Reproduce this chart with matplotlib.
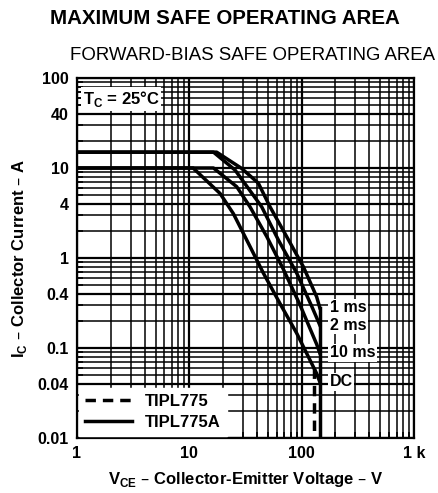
import matplotlib
matplotlib.use('Agg')
import matplotlib.pyplot as plt
import numpy as np
from matplotlib.ticker import FixedLocator, LogLocator, NullFormatter

plt.rcParams['font.family'] = ['Liberation Sans', 'DejaVu Sans']

# values (V, A)
v_1ms = [1, 17.5, 29.2, 41.1, 52.3, 73.5, 103.5, 136, 145]
i_1ms = [15, 15, 9.9, 6.8, 3.7, 1.73, 0.8, 0.37, 0.28]

v_2ms = [1, 16.4, 25.5, 44.1, 62.1, 90.3, 123, 145]
i_2ms = [15, 15, 9.5, 3.7, 1.58, 0.68, 0.29, 0.18]

v_10ms = [1, 16.4, 26.4, 34.7, 48.9, 68.7, 96.8, 136, 145]
i_10ms = [10, 10, 6.2, 3.7, 1.73, 0.75, 0.3, 0.11, 0.088]

v_dc = [1, 10.8, 18.8, 24.7, 34.7, 45.6, 64.3, 90.3, 136, 145]
i_dc = [10, 10, 5.2, 3.1, 1.34, 0.68, 0.31, 0.146, 0.052, 0.042]

v_max_a = 145      # TIPL775A
v_max = 128        # TIPL775

curve_labels = ['1 ms', '2 ms', '10 ms', 'DC']
label_i = [0.28, 0.18, 0.088, 0.042]

x_ticks = [1, 10, 100, 1000]
x_ticklabels = ['1', '10', '100', '1 k']
y_ticks = [0.01, 0.04, 0.1, 0.4, 1, 4, 10, 40, 100]
y_ticklabels = ['0.01', '0.04', '0.1', '0.4', '1', '4', '10', '40', '100']

fig = plt.figure(figsize=(4.39, 4.93), dpi=100)
ax = fig.add_axes([77 / 439, 55 / 493, 337 / 439, 360 / 493])
ax.set_xscale('log')
ax.set_yscale('log')
ax.set_xlim(1, 1000)
ax.set_ylim(0.01, 100)

ax.xaxis.set_major_locator(FixedLocator(x_ticks))
ax.set_xticklabels(x_ticklabels)
ax.yaxis.set_major_locator(FixedLocator(y_ticks))
ax.set_yticklabels(y_ticklabels)
ax.xaxis.set_minor_locator(LogLocator(base=10, subs=np.arange(2, 10)))
ax.yaxis.set_minor_locator(LogLocator(base=10, subs=np.arange(2, 10)))
ax.xaxis.set_minor_formatter(NullFormatter())
ax.yaxis.set_minor_formatter(NullFormatter())
ax.tick_params(which='both', direction='in', length=4, width=1.2, color='black')
ax.tick_params(which='major', labelsize=11.5, pad=6)
for lab in ax.get_xticklabels() + ax.get_yticklabels():
    lab.set_fontweight('bold')

ax.grid(True, which='major', color='black', linewidth=1.6)
ax.grid(True, which='minor', color='black', linewidth=1.1)
for sp in ax.spines.values():
    sp.set_linewidth(1.6)

lw = 2.5
for v, i in [(v_1ms, i_1ms), (v_2ms, i_2ms), (v_10ms, i_10ms), (v_dc, i_dc)]:
    ax.plot(v, i, color='black', linewidth=lw, solid_joinstyle='round', zorder=3)
ax.plot([v_max_a, v_max_a], [i_1ms[-1], 0.01], color='black', linewidth=lw, zorder=3)
ax.plot([v_max, v_max], [0.06, 0.01], color='black', linewidth=lw, linestyle=(0, (3, 2)),
        zorder=3)

for txt, yi in zip(curve_labels, label_i):
    ax.text(178, yi, txt, fontsize=11.5, fontweight='bold', va='center', ha='left',
            bbox=dict(facecolor='white', edgecolor='none', pad=1.0), zorder=4)

ax.text(1.12, 58, 'T$_\\mathregular{C}$ = 25\u00b0C', fontsize=12, fontweight='bold',
        va='center', ha='left', bbox=dict(facecolor='white', edgecolor='none', pad=1.5), zorder=4)

ax.plot([], [], color='black', linewidth=lw, linestyle=(0, (3, 2)), label='TIPL775')
ax.plot([], [], color='black', linewidth=lw, label='TIPL775A')
leg = ax.legend(loc='lower left', frameon=True, fancybox=False, framealpha=1,
                edgecolor='white', handlelength=2.8, borderaxespad=0.15,
                labelspacing=0.35, borderpad=0.35, prop={'weight': 'bold', 'size': 12})
leg.set_zorder(5)

ax.set_xlabel('V$_\\mathregular{CE}$ \u2013 Collector-Emitter Voltage \u2013 V', fontsize=12,
              fontweight='bold', labelpad=6)
ax.set_ylabel('I$_\\mathregular{C}$ \u2013 Collector Current \u2013 A', fontsize=12,
              fontweight='bold', labelpad=6)

fig.text(0.513, 0.963, 'MAXIMUM SAFE OPERATING AREA', fontsize=14.8, fontweight='bold',
         ha='center', va='center')
fig.text(0.575, 0.888, 'FORWARD-BIAS SAFE OPERATING AREA', fontsize=13.4,
         ha='center', va='center')

fig.savefig('out.png', dpi=100)
